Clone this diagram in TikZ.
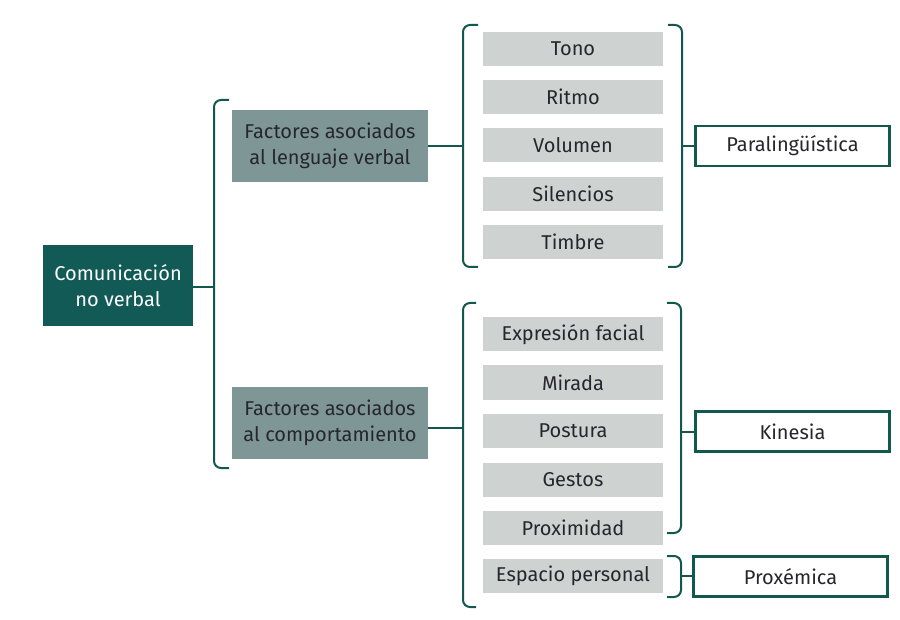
\documentclass[tikz,border=0pt]{standalone}
\usepackage{fontspec}
\setmainfont{Fira Sans}
\definecolor{dteal}{HTML}{115A55}
\definecolor{lteal}{HTML}{13584F}
\definecolor{fgray}{HTML}{7F9696}
\definecolor{igray}{HTML}{CED3D1}
\definecolor{ink}{HTML}{26262E}
\begin{document}
\begin{tikzpicture}[x=1pt,y=-1pt,
  every node/.style={inner sep=0pt, align=center, font=\fontsize{20}{26}\selectfont},
  rootbox/.style={fill=dteal, text=white, minimum width=150pt, minimum height=81pt},
  factbox/.style={fill=fgray, text=ink, minimum width=196pt, minimum height=72pt},
  itembox/.style={fill=igray, text=ink, minimum width=180pt, minimum height=34pt},
  catbox/.style={draw=lteal, line width=2.2pt, fill=white, text=ink, minimum width=194pt, minimum height=40pt},
  brk/.style={draw=lteal, line width=2pt, rounded corners=7pt},
  conn/.style={draw=lteal, line width=2.4pt}]
\useasboundingbox (0,0) rectangle (900,620);
% nodes
\node[rootbox] (com) at (118,285.5) {Comunicación\\no verbal};
\node[factbox] (f1) at (330,146) {Factores asociados\\al lenguaje verbal};
\node[factbox] (f2) at (330,423) {Factores asociados\\al comportamiento};
\node[itembox] (tono) at (573,49) {Tono};
\node[itembox] (ritmo) at (573,97) {Ritmo};
\node[itembox] (vol) at (573,145) {Volumen};
\node[itembox] (sil) at (573,194) {Silencios};
\node[itembox] (tim) at (573,242) {Timbre};
\node[itembox] (expr) at (573,334.5) {Expresión facial};
\node[itembox] (mir) at (573,382.5) {Mirada};
\node[itembox] (post) at (573,431) {Postura};
\node[itembox] (gest) at (573,479.5) {Gestos};
\node[itembox] (proxi) at (573,528) {Proximidad};
\node[itembox] (esp) at (573,576) {Espacio personal};
\node[catbox] (para) at (792.5,146) {Paralingüística};
\node[catbox] (kin) at (792.5,431.5) {Kinesia};
\node[catbox] (prox) at (790.5,576.5) {Proxémica};
% bracket coordinates
\coordinate (b0) at (214,287);
\coordinate (b1) at (463,146);
\coordinate (b2) at (463,428);
\coordinate (r1) at (682,146);
\coordinate (r2) at (681,432);
\coordinate (r3) at (681,576);
% brackets
\draw[brk] (229,100) -- (214,100) -- (214,468) -- (229,468);
\draw[brk] (478,25) -- (463,25) -- (463,267) -- (478,267);
\draw[brk] (668,25) -- (682,25) -- (682,267) -- (668,267);
\draw[brk] (476,303) -- (463,303) -- (463,607) -- (476,607);
\draw[brk] (667,303) -- (681,303) -- (681,533) -- (667,533);
\draw[brk] (667,556) -- (681,556) -- (681,597) -- (667,597);
% connectors
\draw[conn] (com.east |- b0) -- (b0);
\draw[conn] (f1.east |- b1) -- (b1);
\draw[conn] (f2.east |- b2) -- (b2);
\draw[conn] (r1) -- (para.west |- r1);
\draw[conn] (r2) -- (kin.west |- r2);
\draw[conn] (r3) -- (prox.west |- r3);
\end{tikzpicture}
\end{document}
